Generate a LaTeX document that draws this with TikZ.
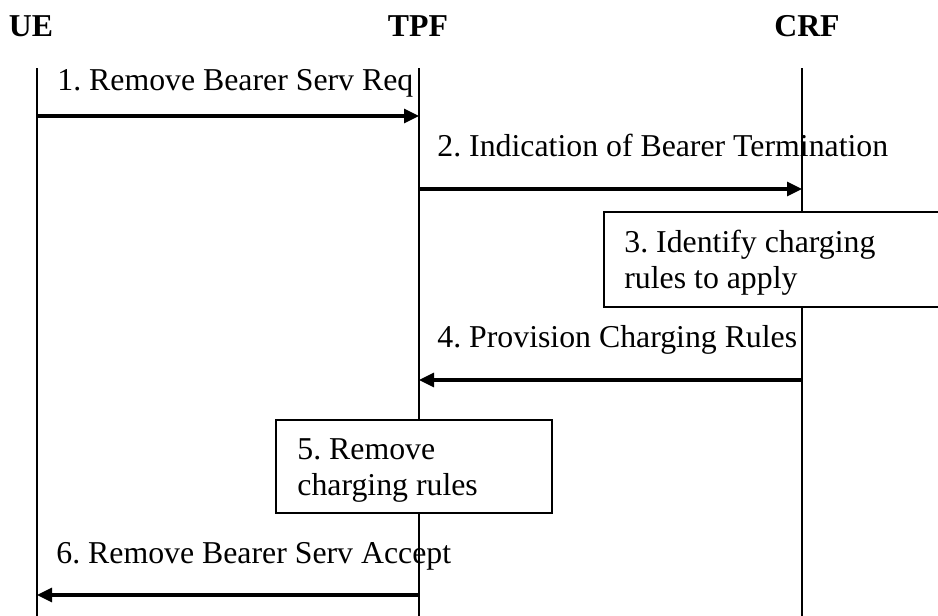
\documentclass[tikz,border=0pt]{standalone}
\usepackage{fontspec}
\setmainfont{Liberation Serif}
\frenchspacing
\usetikzlibrary{arrows.meta}
\tikzset{x=0.5pt, y=-0.5pt,
every node/.style={ % Sets the font for all texts
font=\fontsize{15.9}{18}\selectfont},
entity/.style={font=\fontsize{15.9}{18}\selectfont\bfseries, anchor=base, inner sep=0pt},
life/.style={draw, line width=0.65pt},
msg/.style={ % Sets the properties for each message
draw,
line width=1.6pt,
-{Triangle[length=7.5pt, width=7pt]}},
msgtext/.style={anchor=base west, inner sep=0pt, align=left},
action/.style={draw, fill=white, line width=0.7pt, inner sep=0pt}}

\begin{document}
\begin{tikzpicture}
	\clip (0,0) rectangle (938,616);
	\node[entity] (ue) at (31,36) {UE};
	\node[entity] (tpf) at (418,36) {TPF};
	\node[entity] (crf) at (807,36) {CRF};
	\coordinate (ueL) at (37,68);
	\coordinate (tpfL) at (419,68);
	\coordinate (crfL) at (802,68);
	\draw[life] (ueL) -- (ueL |- 0,620);
	\draw[life] (tpfL) -- (tpfL |- 0,620);
	\draw[life] (crfL) -- (crfL |- 0,620);
	\node[msgtext] (t1) at (57,90) {1. Remove Bearer Serv Req};
	\draw[msg] (ueL |- 0,116) -- (tpfL |- 0,116);
	\node[msgtext] (t2) at (437,156) {2. Indication of Bearer Termination};
	\draw[msg] (tpfL |- 0,189) -- (crfL |- 0,189);
	\node[action, minimum width=173pt, minimum height=47.5pt] (identify) at (777,259.5) {};
	% base of a two-line text is its last line
	\node[msgtext] (t3) at (624,288) {3. Identify charging\\rules to apply};
	\node[msgtext] (t4) at (437,347) {4. Provision Charging Rules};
	\draw[msg] (crfL |- 0,380) -- (tpfL |- 0,380);
	\node[action, minimum width=138pt, minimum height=46.5pt] (remove) at (414,466.5) {};
	\node[msgtext] (t5) at (297,495) {5. Remove\\charging rules};
	\node[msgtext] (t6) at (56,563) {6. Remove Bearer Serv Accept};
	\draw[msg] (tpfL |- 0,595) -- (ueL |- 0,595);
\end{tikzpicture}
\end{document}
